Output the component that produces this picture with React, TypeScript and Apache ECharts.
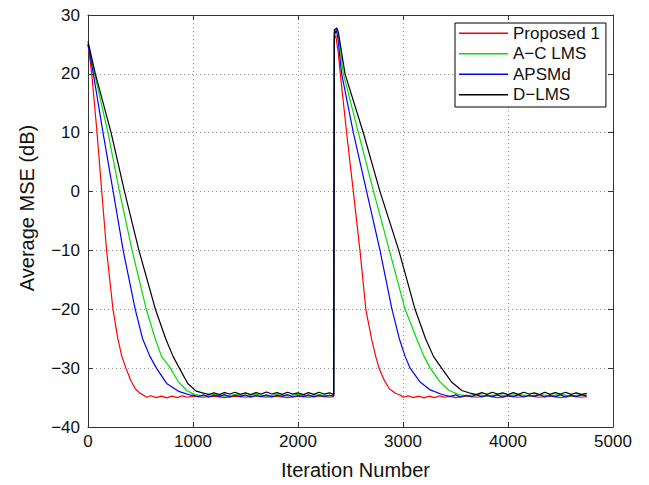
import React, { useEffect, useRef } from "react";
import * as echarts from "echarts";

// ---------- data (iteration, dB) ----------
const xTicks = [0, 1000, 2000, 3000, 4000, 5000];
const yTicks = [-40, -30, -20, -10, 0, 10, 20, 30];
const seriesNames = ["Proposed 1", "A\u2212C LMS", "APSMd", "D\u2212LMS"];
const seriesColors = ["#ff0000", "#00dd00", "#0000ff", "#000000"];

// Proposed 1 (red)
const redDecay1 = [[0, 25], [36, 20], [86, 10], [131, 0], [177, -10], [238, -20], [284, -25], [322, -28], [362, -30], [405, -32], [450, -33.5], [490, -34.2], [530, -34.6]];
const redFloor1 = [[560, -34.95], [600, -34.7], [650, -35.0], [700, -34.75], [750, -35.05], [800, -34.75], [850, -35.0], [900, -34.7], [950, -34.95], [1000, -34.75], [1100, -34.95], [1200, -34.75], [1300, -35.0], [1400, -34.75], [1500, -34.95], [1600, -34.7], [1700, -34.95], [1800, -34.75], [1900, -35.0], [2000, -34.75], [2100, -34.95], [2200, -34.7], [2300, -34.95], [2340, -34.85]];
const redDecay2 = [[2346, 26], [2360, 26.5], [2372, 25], [2384, 23.5], [2400, 20.5], [2463, 10], [2527, 0], [2590, -10], [2646, -20], [2700, -25], [2740, -28], [2772, -30], [2820, -32], [2870, -33.5], [2930, -34.3], [2980, -34.6]];
const redFloor2 = [[3000, -34.95], [3050, -34.7], [3100, -35.0], [3150, -34.75], [3200, -35.05], [3250, -34.75], [3300, -35.0], [3350, -34.7], [3400, -34.95], [3450, -34.75], [3500, -35.0], [3600, -34.75], [3700, -34.95], [3800, -34.7], [3900, -35.0], [4000, -34.75], [4100, -34.95], [4200, -34.7], [4300, -34.95], [4400, -34.75], [4500, -35.0], [4600, -34.75], [4700, -34.95], [4750, -34.85]];

// A-C LMS (green)
const greenDecay1 = [[0, 25], [63, 20], [190, 10], [300, 0], [420, -10], [555, -20], [640, -25], [700, -28], [785, -30], [860, -32.3], [940, -33.8], [1020, -34.5]];
const greenFloor1 = [[1100, -34.7], [1200, -34.5], [1300, -34.75], [1400, -34.5], [1500, -34.7], [1600, -34.45], [1700, -34.75], [1800, -34.5], [1900, -34.7], [2000, -34.45], [2100, -34.75], [2200, -34.5], [2300, -34.7], [2340, -34.6]];
const greenDecay2 = [[2346, 27], [2375, 27.5], [2390, 26], [2432, 20], [2575, 10], [2720, 0], [2870, -10], [3020, -20], [3130, -25], [3200, -28], [3260, -30], [3350, -32.3], [3440, -33.8], [3530, -34.5]];
const greenFloor2 = [[3600, -34.7], [3700, -34.45], [3800, -34.75], [3900, -34.5], [4000, -34.7], [4100, -34.45], [4200, -34.75], [4300, -34.5], [4400, -34.7], [4500, -34.45], [4600, -34.75], [4700, -34.5], [4750, -34.6]];

// APSMd (blue)
const blueDecay1 = [[0, 25], [51, 20], [143, 10], [240, 0], [335, -10], [450, -20], [520, -25], [590, -28], [652, -30], [749, -32.6], [870, -34], [980, -34.6]];
const blueFloor1 = [[1000, -34.6], [1050, -34.85], [1100, -34.55], [1150, -34.9], [1200, -34.6], [1250, -34.8], [1300, -34.5], [1350, -34.9], [1400, -34.6], [1450, -34.85], [1500, -34.55], [1550, -34.95], [1600, -34.65], [1650, -34.85], [1700, -34.55], [1750, -34.9], [1800, -34.6], [1850, -34.8], [1900, -34.5], [1950, -34.9], [2000, -34.65], [2050, -34.85], [2100, -34.55], [2150, -34.9], [2200, -34.6], [2250, -34.85], [2300, -34.6], [2340, -34.75]];
const blueDecay2 = [[2346, 26.5], [2365, 27.5], [2380, 26], [2416, 20], [2527, 10], [2654, 0], [2781, -10], [2895, -20], [2965, -25], [3020, -28], [3068, -30], [3160, -32.3], [3260, -33.7], [3360, -34.4]];
const blueFloor2 = [[3400, -34.6], [3450, -34.85], [3500, -34.55], [3550, -34.9], [3600, -34.6], [3650, -34.85], [3700, -34.5], [3750, -34.9], [3800, -34.6], [3850, -34.85], [3900, -34.55], [3950, -34.95], [4000, -34.65], [4050, -34.85], [4100, -34.55], [4150, -34.9], [4200, -34.6], [4250, -34.8], [4300, -34.5], [4350, -34.9], [4400, -34.65], [4450, -34.85], [4500, -34.55], [4550, -34.9], [4600, -34.6], [4650, -34.85], [4700, -34.55], [4750, -34.75]];

// D-LMS (black)
const blackDecay1 = [[0, 25.5], [70, 20], [220, 10], [348, 0], [485, -10], [642, -20], [740, -25], [810, -28], [870, -30], [950, -32.6], [1030, -33.9], [1090, -34.2]];
const blackFloor1 = [[1150, -34.45], [1200, -34.2], [1250, -34.5], [1300, -34.15], [1350, -34.4], [1400, -34.1], [1450, -34.45], [1500, -34.2], [1550, -34.5], [1600, -34.15], [1650, -34.4], [1700, -34.05], [1750, -34.4], [1800, -34.15], [1850, -34.45], [1900, -34.1], [1950, -34.4], [2000, -34.2], [2050, -34.5], [2100, -34.15], [2150, -34.45], [2200, -34.1], [2250, -34.4], [2300, -34.2], [2340, -34.45]];
const blackDecay2 = [[2346, 27.5], [2370, 27.8], [2385, 27], [2448, 20], [2622, 10], [2781, 0], [2960, -10], [3115, -20], [3215, -25], [3290, -28], [3368, -30], [3460, -32.3], [3560, -33.8], [3650, -34.3]];
const blackFloor2 = [[3700, -34.5], [3750, -34.15], [3800, -34.45], [3850, -34.1], [3900, -34.4], [3950, -34.2], [4000, -34.5], [4050, -34.15], [4100, -34.45], [4150, -34.1], [4200, -34.4], [4250, -34.2], [4300, -34.5], [4350, -34.1], [4400, -34.45], [4450, -34.15], [4500, -34.4], [4550, -34.1], [4600, -34.45], [4650, -34.2], [4700, -34.45], [4750, -34.3]];

const seriesData = [
  [...redDecay1, ...redFloor1, ...redDecay2, ...redFloor2],
  [...greenDecay1, ...greenFloor1, ...greenDecay2, ...greenFloor2],
  [...blueDecay1, ...blueFloor1, ...blueDecay2, ...blueFloor2],
  [...blackDecay1, ...blackFloor1, ...blackDecay2, ...blackFloor2],
];

const FONT = "'Liberation Sans', Arial, Helvetica, sans-serif";
const minus = (v: number) => String(v).replace("-", "\u2212");

export default function App() {
  const ref = useRef<HTMLDivElement>(null);
  useEffect(() => {
    if (!ref.current) return;
    const chart = echarts.init(ref.current, undefined, { renderer: "svg" });
    const axisLine = { show: true, onZero: false, lineStyle: { color: "#333", width: 1 } };
    const axisTick = { show: true, inside: true, length: 5, lineStyle: { color: "#333" } };
    const splitLine = { show: true, lineStyle: { color: "#999", type: [1, 3] as any, width: 1 } };
    const xBase = { type: "value", min: xTicks[0], max: xTicks[xTicks.length - 1], interval: 1000 };
    const yBase = { type: "value", min: yTicks[0], max: yTicks[yTicks.length - 1], interval: 10 };
    chart.setOption({
      animation: false,
      backgroundColor: "#fff",
      textStyle: { fontFamily: FONT },
      grid: { left: 88, top: 15, width: 525, height: 412, containLabel: false },
      xAxis: [
        {
          ...xBase,
          position: "bottom",
          axisLine,
          axisTick,
          splitLine,
          axisLabel: { show: true, margin: 6, color: "#111", fontSize: 17, fontFamily: FONT, formatter: minus },
        },
        {
          ...xBase,
          position: "top",
          axisLine,
          axisTick,
          splitLine: { show: false },
          axisLabel: { show: false },
        },
      ],
      yAxis: [
        {
          ...yBase,
          position: "left",
          axisLine,
          axisTick,
          splitLine,
          axisLabel: { show: true, margin: 8, color: "#111", fontSize: 17, fontFamily: FONT, formatter: minus },
        },
        {
          ...yBase,
          position: "right",
          axisLine,
          axisTick,
          splitLine: { show: false },
          axisLabel: { show: false },
        },
      ],
      legend: {
        orient: "vertical",
        left: 455,
        top: 23,
        padding: [0, 6, 2, 4],
        itemGap: 0,
        itemWidth: 49,
        itemHeight: 1.5,
        icon: "rect",
        borderColor: "#000",
        borderWidth: 1,
        backgroundColor: "#fff",
        textStyle: { fontSize: 17, fontFamily: FONT, color: "#111", lineHeight: 20.5 },
        data: seriesNames,
      },
      graphic: [
        {
          type: "text",
          x: 26.5,
          y: 208,
          rotation: Math.PI / 2,
          style: {
            text: "Average MSE (dB)",
            font: `20px ${FONT}`,
            fill: "#111",
            textAlign: "center",
            textVerticalAlign: "middle",
            align: "center",
            verticalAlign: "middle",
          },
        },
        {
          type: "text",
          x: 355.5,
          y: 470,
          style: {
            text: "Iteration Number",
            font: `20px ${FONT}`,
            fill: "#111",
            textAlign: "center",
            textVerticalAlign: "middle",
            align: "center",
            verticalAlign: "middle",
          },
        },
      ],
      series: seriesNames.map((name, i) => ({
        name,
        type: "line",
        data: seriesData[i],
        showSymbol: false,
        symbol: "none",
        color: seriesColors[i],
        lineStyle: { color: seriesColors[i], width: 1.2 },
        silent: true,
        z: 2 + i,
      })),
    });
    return () => chart.dispose();
  }, []);
  return <div ref={ref} style={{ position: "absolute", left: 0, top: 0, width: 649, height: 485 }} />;
}
